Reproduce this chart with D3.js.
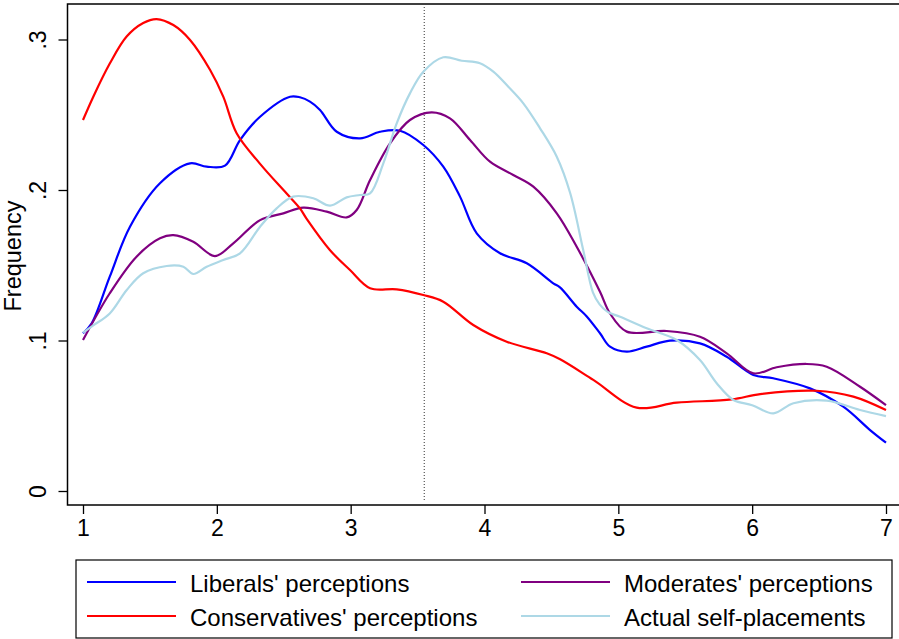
<!DOCTYPE html>
<html>
<head>
<meta charset="utf-8">
<script src="https://cdn.jsdelivr.net/npm/d3@7"></script>
<style>
  html, body { margin: 0; padding: 0; background: #fff; }
  svg { display: block; font-family: "Liberation Sans", Arial, Helvetica, sans-serif; }
</style>
</head>
<body>
<svg id="chart" width="899" height="639"></svg>
<script>
// Kernel density estimates of ideological placement (1 = very liberal, 7 = very conservative)
const liberalsX = [1.0, 1.065, 1.20, 1.351, 1.575, 1.80, 1.924, 2.061, 2.173, 2.323, 2.547, 2.621, 2.696, 2.771, 2.896, 3.07, 3.219, 3.369, 3.543, 3.692, 3.817, 3.942, 4.116, 4.316, 4.514, 4.564, 4.689, 4.764, 4.863, 4.938, 5.063, 5.212, 5.386, 5.61, 5.81, 6.009, 6.158, 6.432, 6.681, 6.881, 7.0];
const liberalsY = [0.1048, 0.1114, 0.1424, 0.1756, 0.2045, 0.2177, 0.2155, 0.2162, 0.2332, 0.2487, 0.262, 0.2616, 0.2587, 0.2532, 0.2387, 0.2343, 0.2387, 0.2394, 0.2299, 0.2155, 0.1956, 0.1712, 0.158, 0.1513, 0.138, 0.1353, 0.1225, 0.116, 0.1048, 0.0959, 0.0926, 0.0959, 0.0999, 0.0981, 0.0892, 0.0771, 0.0749, 0.0682, 0.056, 0.0405, 0.0321];

const moderatesX = [1.0, 1.20, 1.40, 1.575, 1.675, 1.824, 1.986, 2.123, 2.323, 2.497, 2.646, 2.821, 2.97, 3.045, 3.145, 3.294, 3.443, 3.605, 3.742, 3.892, 4.041, 4.215, 4.365, 4.54, 4.689, 4.863, 4.938, 5.063, 5.361, 5.61, 5.81, 6.009, 6.183, 6.407, 6.557, 6.806, 7.0];
const moderatesY = [0.1003, 0.1314, 0.1557, 0.1679, 0.170, 0.1656, 0.1561, 0.1646, 0.180, 0.1845, 0.1883, 0.1856, 0.1818, 0.1867, 0.2066, 0.231, 0.2465, 0.2516, 0.2476, 0.2332, 0.2188, 0.21, 0.2022, 0.1845, 0.1623, 0.1324, 0.118, 0.1059, 0.1063, 0.1025, 0.0915, 0.0782, 0.0822, 0.0844, 0.0826, 0.0693, 0.0571];

const conservativesX = [1.0, 1.077, 1.20, 1.326, 1.45, 1.55, 1.675, 1.80, 1.95, 2.048, 2.148, 2.32, 2.52, 2.621, 2.67, 2.846, 2.995, 3.145, 3.344, 3.543, 3.692, 3.916, 4.166, 4.465, 4.565, 4.813, 5.137, 5.436, 5.847, 6.06, 6.48, 6.756, 7.0];
const conservativesY = [0.2465, 0.262, 0.284, 0.302, 0.311, 0.3136, 0.3096, 0.2997, 0.2797, 0.262, 0.2377, 0.2177, 0.1978, 0.1878, 0.181, 0.160, 0.1468, 0.1347, 0.134, 0.1302, 0.1258, 0.1103, 0.0992, 0.0915, 0.0875, 0.0738, 0.0554, 0.0587, 0.0609, 0.0644, 0.0666, 0.0627, 0.0538];

const actualX = [1.0, 1.077, 1.20, 1.327, 1.45, 1.625, 1.75, 1.824, 1.924, 2.048, 2.173, 2.323, 2.447, 2.571, 2.721, 2.846, 2.97, 3.07, 3.145, 3.244, 3.344, 3.443, 3.543, 3.692, 3.83, 3.966, 4.066, 4.178, 4.29, 4.415, 4.54, 4.64, 4.738, 4.81, 4.86, 4.92, 5.013, 5.212, 5.436, 5.61, 5.735, 5.86, 6.0, 6.158, 6.308, 6.557, 6.806, 7.0];
const actualY = [0.1052, 0.110, 0.118, 0.1336, 0.1447, 0.1495, 0.149, 0.1442, 0.149, 0.1535, 0.1579, 0.1756, 0.1878, 0.1956, 0.1945, 0.1896, 0.1951, 0.1967, 0.1978, 0.2177, 0.2443, 0.2642, 0.2786, 0.2882, 0.2859, 0.2842, 0.2786, 0.2686, 0.2576, 0.241, 0.2221, 0.198, 0.160, 0.132, 0.124, 0.119, 0.1158, 0.1081, 0.1003, 0.087, 0.0716, 0.0605, 0.057, 0.0516, 0.0583, 0.060, 0.0538, 0.0498];

const meanPlacement = 3.55;

const xTicks = [1, 2, 3, 4, 5, 6, 7];
const yTicks = [0, 0.1, 0.2, 0.3];
const yTickLabels = ["0", ".1", ".2", ".3"];

const seriesNames = ["Liberals' perceptions", "Moderates' perceptions", "Conservatives' perceptions", "Actual self-placements"];
const seriesColors = ["#0000ff", "#800080", "#ff0000", "#add8e6"];

const series = [
  { name: seriesNames[0], color: seriesColors[0], xs: liberalsX, ys: liberalsY },
  { name: seriesNames[1], color: seriesColors[1], xs: moderatesX, ys: moderatesY },
  { name: seriesNames[2], color: seriesColors[2], xs: conservativesX, ys: conservativesY },
  { name: seriesNames[3], color: seriesColors[3], xs: actualX, ys: actualY }
];

const svg = d3.select("#chart");
const plot = { left: 67.5, top: 4, right: 900, bottom: 505 };

const x = d3.scaleLinear().domain([1, 7]).range([83, 886]);
const y = d3.scaleLinear().domain([0, 0.3]).range([491, 39.5]);

// Plot frame
svg.append("rect")
  .attr("x", plot.left).attr("y", plot.top)
  .attr("width", plot.right - plot.left).attr("height", plot.bottom - plot.top)
  .attr("fill", "none").attr("stroke", "#000").attr("stroke-width", 1.5);

// X axis
const xAxis = svg.append("g")
  .attr("transform", `translate(0,${plot.bottom})`)
  .call(d3.axisBottom(x).tickValues(xTicks).tickFormat(d3.format("d")).tickSize(9).tickPadding(6));
xAxis.select(".domain").remove();
xAxis.selectAll(".tick line").attr("stroke", "#000").attr("stroke-width", 1.3);
xAxis.selectAll(".tick text")
  .attr("font-size", 23).attr("fill", "#000")
  .attr("font-family", "'Liberation Sans', Arial, Helvetica, sans-serif");

// Y axis with rotated labels
const yAxis = svg.append("g")
  .attr("transform", `translate(${plot.left},0)`)
  .call(d3.axisLeft(y).tickValues(yTicks).tickFormat((d, i) => yTickLabels[i]).tickSize(9));
yAxis.select(".domain").remove();
yAxis.selectAll(".tick line").attr("stroke", "#000").attr("stroke-width", 1.3);
yAxis.selectAll(".tick text")
  .attr("font-size", 23).attr("fill", "#000")
  .attr("font-family", "'Liberation Sans', Arial, Helvetica, sans-serif")
  .attr("x", null).attr("dy", null)
  .attr("text-anchor", "middle")
  .attr("transform", "translate(-21.5,0) rotate(-90)");

// Y axis title
svg.append("text")
  .attr("transform", "translate(20.5,256) rotate(-90)")
  .attr("text-anchor", "middle")
  .attr("font-size", 23.5)
  .text("Frequency");

// Mean placement reference line
svg.append("line")
  .attr("x1", x(meanPlacement)).attr("x2", x(meanPlacement))
  .attr("y1", 7).attr("y2", 502)
  .attr("stroke", "#555").attr("stroke-width", 1.2)
  .attr("stroke-dasharray", "1,2");

// Density curves
const line = d3.line()
  .x(d => x(d[0]))
  .y(d => y(d[1]))
  .curve(d3.curveCatmullRom.alpha(0.5));

series.forEach(s => {
  const pts = s.xs.map((v, i) => [v, s.ys[i]]);
  svg.append("path")
    .datum(pts)
    .attr("d", line)
    .attr("fill", "none")
    .attr("stroke", s.color)
    .attr("stroke-width", 2.2)
    .attr("stroke-linejoin", "round");
});

// Legend
const legend = svg.append("g");
legend.append("rect")
  .attr("x", 76).attr("y", 560).attr("width", 816).attr("height", 78)
  .attr("fill", "#fff").attr("stroke", "#000").attr("stroke-width", 1.2);

const colX = [87, 521];
const rowY = [582, 616];
series.forEach((s, i) => {
  const cx = colX[i % 2];
  const cy = rowY[Math.floor(i / 2)];
  legend.append("line")
    .attr("x1", cx).attr("x2", cx + 89)
    .attr("y1", cy).attr("y2", cy)
    .attr("stroke", s.color).attr("stroke-width", 2.2);
  legend.append("text")
    .attr("x", cx + 103).attr("y", cy + 10)
    .attr("font-size", 24)
    .text(s.name);
});
</script>
</body>
</html>
